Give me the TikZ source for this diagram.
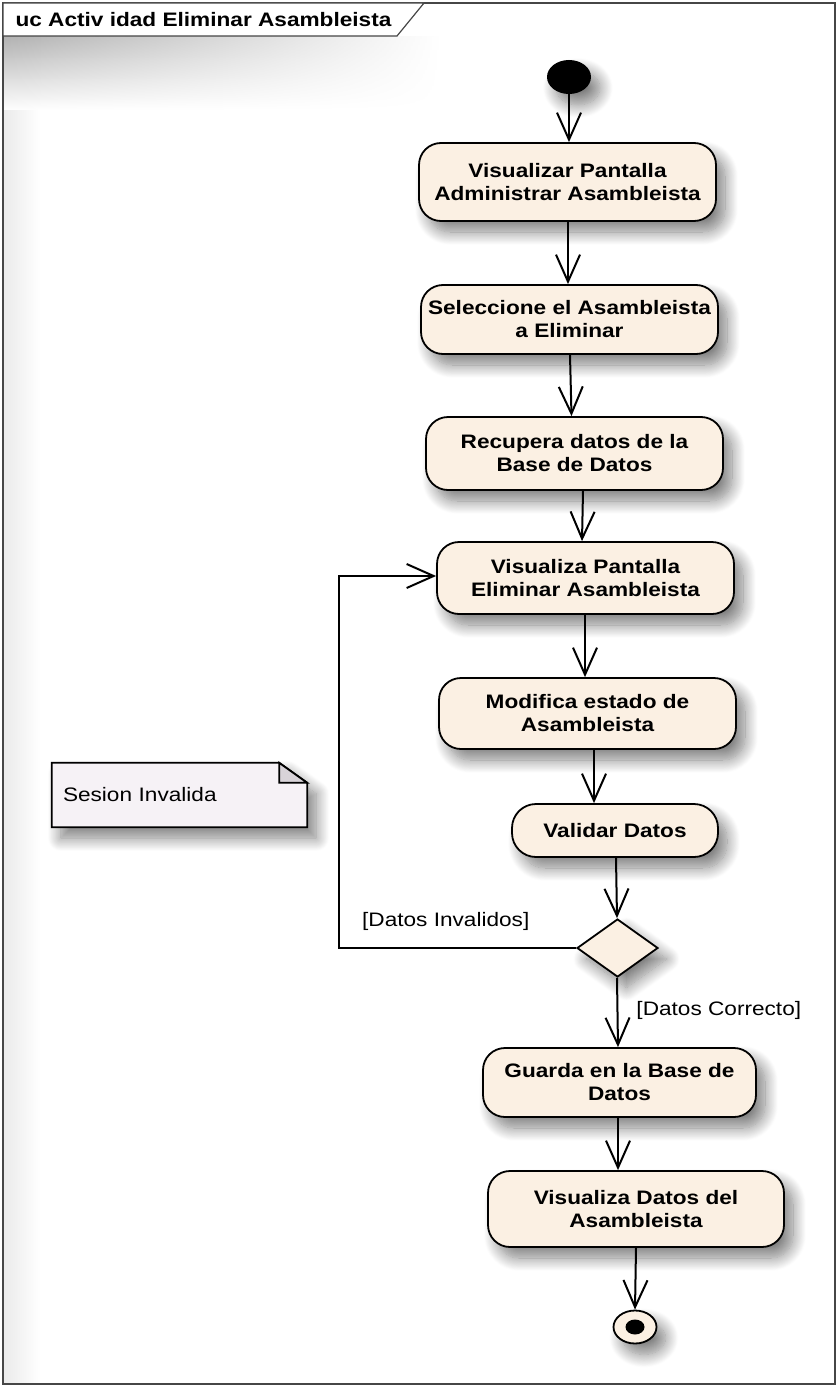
\documentclass[tikz,border=0pt]{standalone}
\usepackage{fontspec}
\setmainfont{Liberation Sans}[FakeStretch=1.16]
\usepackage{tikz}
\usetikzlibrary{arrows.meta, shapes.geometric, backgrounds, fadings, shadows.blur}
\definecolor{actcolor}{RGB}{251,240,227}
\definecolor{notecolor}{RGB}{246,242,246}
\definecolor{foldcolor}{RGB}{216,211,216}
\definecolor{framecolor}{RGB}{70,70,70}

\begin{document}
\begin{tikzpicture}[x=1pt, y=-1pt,
    every node/.style={font=\fontsize{19.5pt}{23pt}\selectfont, align=center},
    sh/.style={blur shadow={shadow xshift=9pt, shadow yshift=-11pt,
               shadow blur radius=13pt, shadow blur steps=16, shadow opacity=50}},
    act/.style={draw, line width=1.8pt, fill=actcolor, rounded corners=22pt,
                minimum width=297pt, inner sep=0pt, sh,
                font=\fontsize{19.5pt}{23pt}\selectfont\bfseries},
    startnode/.style={ellipse, fill=black, minimum width=44pt, minimum height=34pt,
                      inner sep=0pt, sh},
    endnode/.style={ellipse, draw, line width=1.8pt, fill=actcolor, minimum width=43pt,
                    minimum height=33pt, inner sep=0pt, sh,
                    path picture={\fill[black] (path picture bounding box.center)
                                  ellipse (9.5pt and 7.5pt);}},
    decision/.style={diamond, draw, line width=1.8pt, fill=actcolor, minimum width=81pt,
                     minimum height=58pt, inner sep=0pt, sh},
    notenode/.style={text width=233pt, inner xsep=11pt, inner ysep=0pt,
                     minimum height=64pt, align=left},
    guard/.style={fill=white, inner sep=1pt},
    flow/.style={-{Straight Barb[length=27pt, width=24pt]}, line width=2pt}
]
    \useasboundingbox (0,0) rectangle (837,1386);

    % Frame and its tab
    \shade[left color=black!8, right color=white] (4,37) rectangle (40,1383);
    \shade[top color=black!30, bottom color=white, path fading=east] (4,37) rectangle (440,110);
    \draw[framecolor, line width=1.5pt] (3,3) rectangle (835,1384);
    \draw[framecolor, line width=1.2pt, fill=white] (3,3) -- (424,3) -- (397,36) -- (3,36) -- cycle;
    \node[anchor=west, font=\fontsize{19.5pt}{23pt}\selectfont\bfseries] (title) at (12,20)
        {uc Activ idad Eliminar Asambleista};

    % Activities
    \node[startnode] (inicio) at (569,77) {};
    \node[act, minimum height=78pt] (visadmin) at (567.5,182) {Visualizar Pantalla\\Administrar Asambleista};
    \node[act, minimum height=69pt] (selec) at (569.5,319.5) {Seleccione el Asambleista\\a Eliminar};
    \node[act, minimum height=73pt] (recupera) at (574.5,453.5) {Recupera datos de la\\Base de Datos};
    \node[act, minimum height=72pt] (viselim) at (585.5,578) {Visualiza Pantalla\\Eliminar Asambleista};
    \node[act, minimum height=71pt] (modifica) at (587.5,713.5) {Modifica estado de\\Asambleista};
    \node[act, minimum width=206pt, minimum height=53pt, rounded corners=24pt] (validar) at (615,830.5) {Validar Datos};
    \node[decision] (decide) at (617.5,948) {};
    \node[act, minimum width=273pt, minimum height=69pt] (guarda) at (619.5,1082.5) {Guarda en la Base de\\Datos};
    \node[act, minimum width=296pt, minimum height=76pt] (visdatos) at (636,1209) {Visualiza Datos del\\Asambleista};
    \node[endnode] (fin) at (635,1327) {};

    % Note
    \node[notenode] (nota) at (179.5,795) {\raisebox{-7pt}{Sesion Invalida}};

    % Flows
    \draw[flow] (inicio.south) -- (inicio.south |- visadmin.north);
    \draw[flow] ([xshift=0.5pt]visadmin.south) -- ([xshift=0.5pt]visadmin.south |- selec.north);
    \draw[flow] ([xshift=0.5pt]selec.south) -- ([xshift=2pt]selec.south |- recupera.north);
    \draw[flow] ([xshift=8.5pt]recupera.south) -- ([xshift=-3.5pt]viselim.north);
    \draw[flow] ([xshift=-0.5pt]viselim.south) -- ([xshift=-0.5pt]viselim.south |- modifica.north);
    \draw[flow] ([xshift=6.5pt]modifica.south) -- ([xshift=6.5pt]modifica.south |- validar.north);
    \draw[flow] ([xshift=1pt]validar.south) -- ([xshift=-0.5pt]decide.north);
    \draw[flow] ([xshift=-0.5pt]decide.south) -- ([xshift=-1.5pt]guarda.north)
        node[guard, pos=0.47, right=17pt] (lblok) {[Datos Correcto]};
    \draw[flow] ([xshift=-1.5pt]guarda.south) -- ([xshift=-1.5pt]guarda.south |- visdatos.north);
    \draw[flow] (visdatos.south) -- (fin.north);
    \draw[flow] (decide.west) -- ++(-237pt,0)
        node[guard, pos=0.55, yshift=26.5pt] (lblinv) {[Datos Invalidos]}
        |- ([yshift=2pt]viselim.west);

    \begin{scope}[on background layer]
        \draw[line width=1.8pt, fill=notecolor, sh] (nota.north west) -- ([xshift=-28pt]nota.north east)
            -- ([yshift=-20pt]nota.north east) -- (nota.south east) -- (nota.south west) -- cycle;
        \draw[line width=1.8pt, fill=foldcolor] ([xshift=-28pt]nota.north east)
            -- ([xshift=-28pt, yshift=-20pt]nota.north east) -- ([yshift=-20pt]nota.north east) -- cycle;
    \end{scope}
\end{tikzpicture}
\end{document}
